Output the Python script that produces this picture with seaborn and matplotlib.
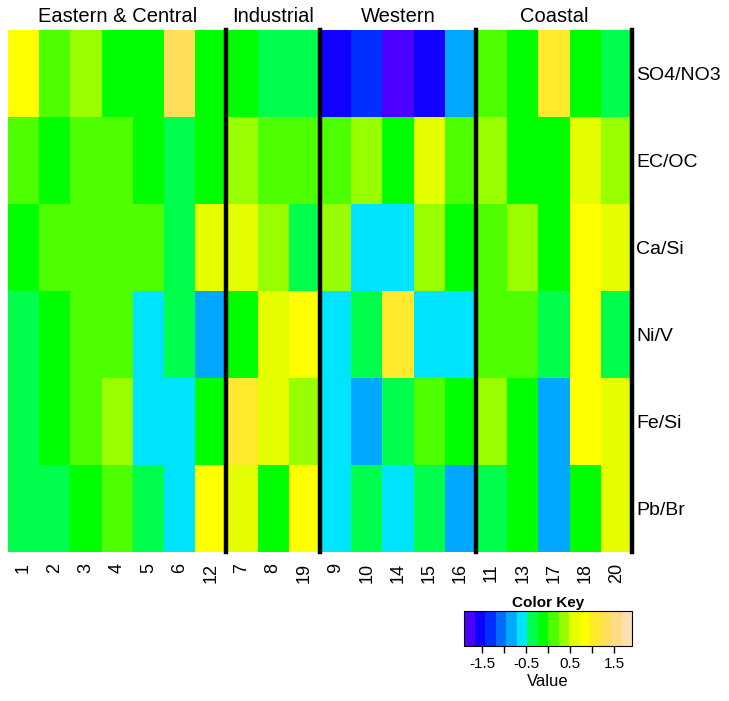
import numpy as np
import pandas as pd
import seaborn as sns
import matplotlib.pyplot as plt
from matplotlib.colors import ListedColormap, hsv_to_rgb

# site order (columns) and ratios (rows)
sites = ["1", "2", "3", "4", "5", "6", "12", "7", "8", "19",
         "9", "10", "14", "15", "16", "11", "13", "17", "18", "20"]
ratios = ["SO4/NO3", "EC/OC", "Ca/Si", "Ni/V", "Fe/Si", "Pb/Br"]
groups = ["Eastern & Central", "Industrial", "Western", "Coastal"]
group_sizes = [7, 3, 5, 5]

# scaled values
so4_no3 = [0.84, 0.12, 0.36, -0.12, -0.12, 1.31, -0.12, -0.12, -0.36, -0.36,
           -1.55, -1.31, -1.79, -1.55, -0.84, 0.12, -0.12, 1.07, -0.12, -0.36]
ec_oc = [0.12, -0.12, 0.12, 0.12, -0.12, -0.36, -0.12, 0.36, 0.12, 0.12,
         0.12, 0.36, -0.12, 0.60, 0.12, 0.36, -0.12, -0.12, 0.60, 0.36]
ca_si = [-0.12, 0.12, 0.12, 0.12, 0.12, -0.36, 0.60, 0.60, 0.36, -0.36,
         0.36, -0.60, -0.60, 0.36, -0.12, 0.12, 0.36, -0.12, 0.84, 0.60]
ni_v = [-0.36, -0.12, 0.12, 0.12, -0.60, -0.36, -0.84, -0.12, 0.60, 0.84,
        -0.60, -0.36, 1.07, -0.60, -0.60, 0.12, 0.12, -0.36, 0.84, -0.36]
fe_si = [-0.36, -0.12, 0.12, 0.36, -0.60, -0.60, -0.12, 1.07, 0.60, 0.36,
         -0.60, -0.84, -0.36, 0.12, -0.12, 0.36, -0.12, -0.84, 0.84, 0.60]
pb_br = [-0.36, -0.36, -0.12, 0.12, -0.36, -0.60, 0.84, 0.60, -0.12, 0.84,
         -0.60, -0.36, -0.60, -0.36, -0.84, -0.36, -0.12, -0.84, -0.12, 0.60]

vmin, vmax = -1.91, 1.91

# topo.colors(16) like palette
def topo_colors(n):
    j = n // 3
    k = n // 3
    i = n - j - k
    cols = []
    for h in np.linspace(43 / 60, 31 / 60, i):
        cols.append(hsv_to_rgb([h, 1, 1]))
    for h in np.linspace(23 / 60, 11 / 60, j):
        cols.append(hsv_to_rgb([h, 1, 1]))
    for h, s in zip(np.linspace(10 / 60, 6 / 60, k), np.linspace(1, 0.3, k)):
        cols.append(hsv_to_rgb([h, s, 1]))
    return cols

cmap = ListedColormap(topo_colors(16))

df = pd.DataFrame([so4_no3, ec_oc, ca_si, ni_v, fe_si, pb_br],
                  index=ratios, columns=sites)

plt.rcParams['font.family'] = ['Liberation Sans', 'DejaVu Sans']

fig = plt.figure(figsize=(7.29, 7.01), dpi=100)
ax = fig.add_axes([8 / 729, 1 - 552 / 701, 624 / 729, 522 / 701])
kax = fig.add_axes([464 / 729, 1 - 646 / 701, 168 / 729, 35 / 701])

sns.heatmap(df, ax=ax, cmap=cmap, vmin=vmin, vmax=vmax, cbar_ax=kax,
            cbar_kws={"orientation": "horizontal"})

# row labels on the right
ax.yaxis.tick_right()
ax.set_yticklabels(ratios, rotation=0, fontsize=14)
ax.tick_params(axis="y", length=0, pad=3)
ax.set_xticklabels(sites, rotation=90, fontsize=13)
ax.tick_params(axis="x", length=0, pad=8)
ax.set_xlabel("")
ax.set_ylabel("")

# group separators and labels
edge = 0
for name, size in zip(groups, group_sizes):
    ax.text(edge + size / 2, 1.008, name, ha="center", va="bottom",
            fontsize=14.5, transform=ax.get_xaxis_transform())
    edge += size
    ax.axvline(edge, color="black", lw=3.2, clip_on=False)

# colour key
cb = ax.collections[0].colorbar
cb.set_ticks([-1.5, -1, -0.5, 0, 0.5, 1, 1.5])
cb.set_ticklabels(["-1.5", "", "-0.5", "", "0.5", "", "1.5"])
cb.outline.set_edgecolor("black")
cb.outline.set_linewidth(0.8)
kax.tick_params(axis="x", length=5, width=1, labelsize=11, pad=3)
kax.set_title("Color Key", fontsize=11, fontweight="bold", pad=3)
kax.set_xlabel("Value", fontsize=12, labelpad=2)

fig.savefig("out.png", dpi=100)
